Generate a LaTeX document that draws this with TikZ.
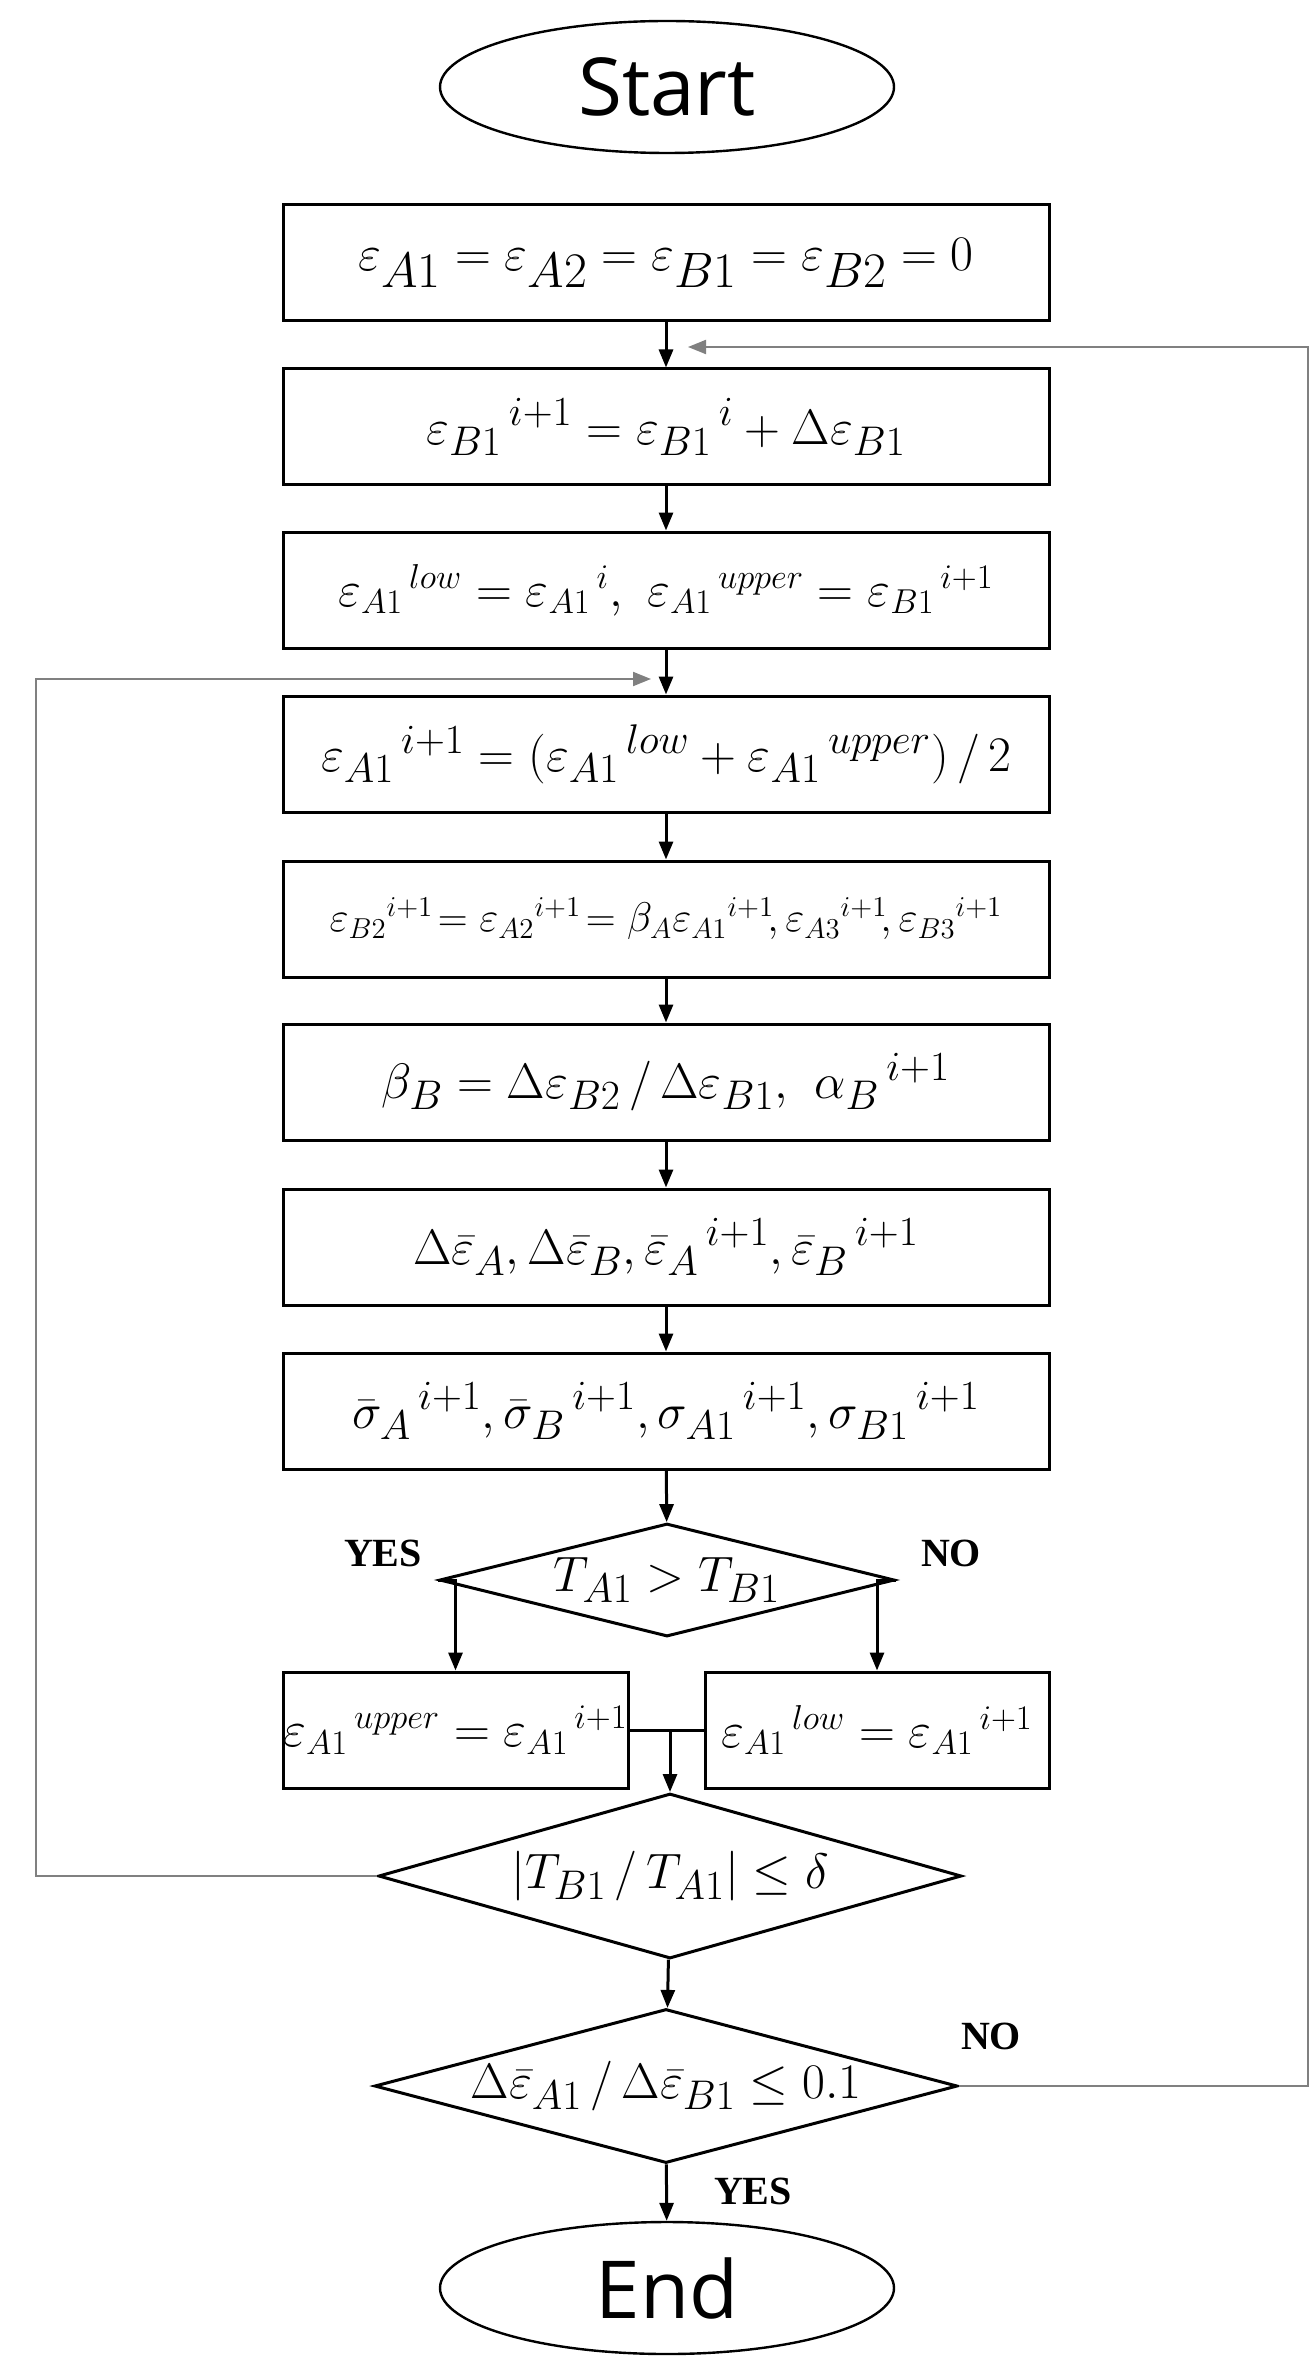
\documentclass[tikz,border=0pt]{standalone}
\usepackage{fontspec}
\usetikzlibrary{shapes.geometric,arrows.meta}
\newfontfamily\ssf{Open Sans}
\newfontfamily\tnr{Liberation Serif}
\begin{document}
\begin{tikzpicture}[x=0.5pt,y=-0.5pt,
  box/.style={draw,line width=1.5pt,minimum width=383pt,minimum height=58pt,inner sep=0pt,font=\fontsize{30}{34}\selectfont},
  small/.style={font=\fontsize{24}{28}\selectfont},
  term/.style={draw,ellipse,line width=1.2pt,minimum width=227pt,minimum height=66pt,inner sep=0pt,font=\ssf\fontsize{40}{44}\selectfont},
  dia/.style={draw,diamond,line width=1.5pt,inner sep=0pt},
  dtxt/.style={font=\fontsize{30}{34}\selectfont},
  arr/.style={line width=1.5pt,-{Triangle[length=9pt,width=7pt]}},
  loop/.style={gray,line width=1pt,-{Triangle[length=9pt,width=7pt]}},
  lbl/.style={font=\tnr\bfseries\fontsize{20}{22}\selectfont}]
\useasboundingbox (0,0) rectangle (1314,2380);
\node[term] (start) at (667,87) {Start};
\node[box,font=\fontsize{33}{36}\selectfont] (b1) at (666,263) {$\varepsilon_{A1}=\varepsilon_{A2}=\varepsilon_{B1}=\varepsilon_{B2}=0$};
\node[box] (b2) at (666,427) {$\varepsilon_{B1}{}^{\,i+1}=\varepsilon_{B1}{}^{\,i}+\Delta\varepsilon_{B1}$};
\node[box,font=\fontsize{27}{31}\selectfont] (b3) at (666,590) {$\varepsilon_{A1}{}^{\,low}=\varepsilon_{A1}{}^{\,i},\ \varepsilon_{A1}{}^{\,upper}=\varepsilon_{B1}{}^{\,i+1}$};
\node[box] (b4) at (666,754) {$\varepsilon_{A1}{}^{\,i+1}=(\varepsilon_{A1}{}^{\,low}+\varepsilon_{A1}{}^{\,upper})\,/\,2$};
\node[box,font=\fontsize{22}{26}\selectfont] (b5) at (666,919) {$\varepsilon_{B2}{}^{i+1}\!=\varepsilon_{A2}{}^{i+1}\!=\beta_A\varepsilon_{A1}{}^{i+1}\!,\varepsilon_{A3}{}^{i+1}\!,\varepsilon_{B3}{}^{i+1}$};
\node[box] (b6) at (666,1082) {$\beta_B=\Delta\varepsilon_{B2}\,/\,\Delta\varepsilon_{B1},\ \alpha_B{}^{\,i+1}$};
\node[box] (b7) at (666,1247) {$\Delta\bar\varepsilon_A,\Delta\bar\varepsilon_B,\bar\varepsilon_A{}^{\,i+1},\bar\varepsilon_B{}^{\,i+1}$};
\node[box] (b8) at (666,1411) {$\bar\sigma_A{}^{\,i+1},\bar\sigma_B{}^{\,i+1},\sigma_{A1}{}^{\,i+1},\sigma_{B1}{}^{\,i+1}$};
\node[dia,minimum width=227.5pt,minimum height=56.5pt] (d1) at (667,1580) {};
\node[dtxt] at (d1) {$T_{A1}>T_{B1}$};
\node[box,small,minimum width=172.5pt] (lb) at (455.5,1730) {$\varepsilon_{A1}{}^{\,upper}=\varepsilon_{A1}{}^{\,i+1}$};
\node[box,small,minimum width=172pt] (rb) at (877,1730) {$\varepsilon_{A1}{}^{\,low}=\varepsilon_{A1}{}^{\,i+1}$};
\node[dia,minimum width=291.5pt,minimum height=82.5pt] (d2) at (670,1876) {};
\node[dtxt] at (d2) {$\left|T_{B1}\,/\,T_{A1}\right|\le\delta$};
\node[dia,minimum width=291.5pt,minimum height=77pt] (d3) at (666,2086) {};
\node[dtxt] at (d3) {$\Delta\bar\varepsilon_{A1}\,/\,\Delta\bar\varepsilon_{B1}\le 0.1$};
\node[term] (end) at (667,2288) {End};
\node[lbl] at (383,1553) {YES};
\node[lbl] at (951,1553) {NO};
\node[lbl] at (991,2036) {NO};
\node[lbl] at (753,2191) {YES};
\coordinate (m) at (670,1730);
\coordinate (lc) at (36,1876);
\coordinate (lt) at (651,679);
\coordinate (rc) at (1308,2086);
\coordinate (rt) at (688,347);
\draw[arr] (b1) -- (b2);
\draw[arr] (b2) -- (b3);
\draw[arr] (b3) -- (b4);
\draw[arr] (b4) -- (b5);
\draw[arr] (b5) -- (b6);
\draw[arr] (b6) -- (b7);
\draw[arr] (b7) -- (b8);
\draw[arr] (b8) -- (d1);
\draw[arr] (d1.west) -| (lb.north);
\draw[arr] (d1.east) -| (rb.north);
\draw[line width=1.5pt] (lb.east) -- (rb.west);
\draw[arr] (m) -- (d2.north);
\draw[arr] (d2) -- (d3);
\draw[arr] (d3) -- (end);
\draw[loop] (d2.west) -- (lc) |- (lt);
\draw[loop] (d3.east) -- (rc) |- (rt);
\end{tikzpicture}
\end{document}
